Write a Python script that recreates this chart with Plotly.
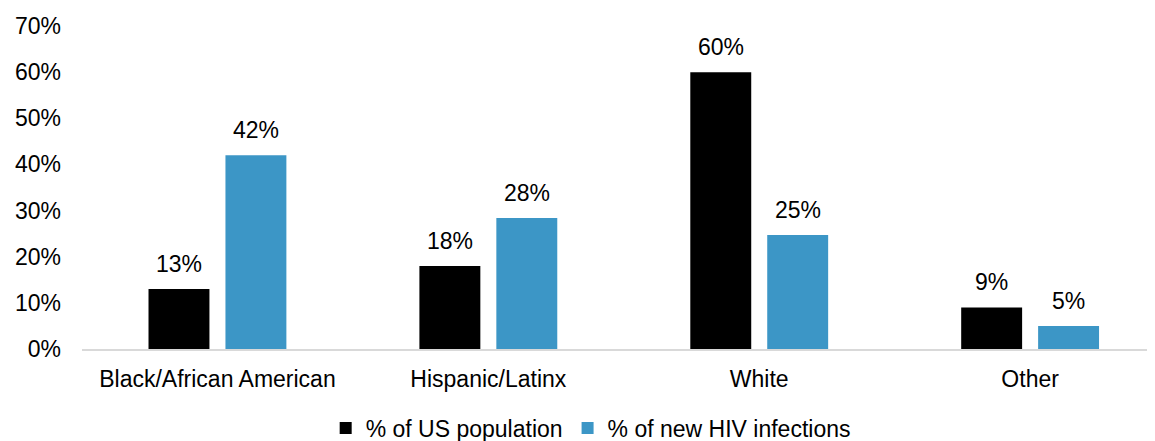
import plotly.graph_objects as go

categories = ["Black/African American", "Hispanic/Latinx", "White", "Other"]
us_population = [13, 18, 60, 9]
new_hiv = [42, 28.4, 24.7, 5]
series_names = ["% of US population", "% of new HIV infections"]
y_ticks = [0, 10, 20, 30, 40, 50, 60, 70]

FONT = "Liberation Sans, Arial, sans-serif"
FS = 23

fig = go.Figure()
fig.add_trace(go.Bar(
    x=categories, y=us_population, name=series_names[0],
    marker=dict(color="#000000", line=dict(width=0)),
))
fig.add_trace(go.Bar(
    x=categories, y=new_hiv, name=series_names[1],
    marker=dict(color="#3C96C6", line=dict(width=0)),
))

# value labels above bars
for vals, shift in ((us_population, -38.5), (new_hiv, 38.5)):
    for c, v in zip(categories, vals):
        fig.add_annotation(
            x=c, y=v, xref="x", yref="y", text=f"{v:.0f}%", showarrow=False,
            xshift=shift, yshift=10, yanchor="bottom",
            font=dict(size=FS, family=FONT, color="#000000"),
        )

fig.update_layout(
    width=1147, height=433,
    margin=dict(l=74, r=0, t=18, b=92, autoexpand=False),
    paper_bgcolor="white", plot_bgcolor="white",
    barmode="group", bargap=0.432, bargroupgap=0.208,
    font=dict(family=FONT, size=FS, color="#000000"),
    showlegend=True,
    legend=dict(orientation="h", xref="container", yref="container",
                x=0.508, xanchor="center", y=0.03, yanchor="middle",
                font=dict(size=FS, family=FONT), traceorder="normal"),
    xaxis=dict(
        range=[-0.5, 3.461], showline=True, linecolor="#D9D9D9", linewidth=2,
        ticks="", showgrid=False, tickfont=dict(size=FS, family=FONT), automargin=False,
        ticklabelstandoff=8,
    ),
    yaxis=dict(
        range=[0, 70], tickvals=y_ticks, ticktext=[f"{v}%" for v in y_ticks],
        showgrid=False, zeroline=False, showline=False, ticks="",
        tickfont=dict(size=FS, family=FONT), automargin=False, ticklabelstandoff=20,
    ),
)

fig.write_html("out.html")
